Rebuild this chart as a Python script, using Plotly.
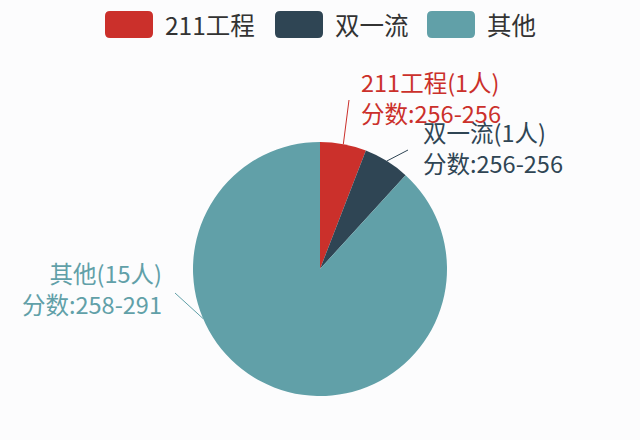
import math
import plotly.graph_objects as go

# Data
labels = ['211工程', '双一流', '其他']
counts = [1, 1, 15]
score_ranges = ['256-256', '256-256', '258-291']
colors = ['#cb302b', '#2f4554', '#61a0a8']

W, H = 640, 440
FONT = 'Noto Sans CJK SC'

# pie geometry (pixels)
cx, cy, R = 320, 269, 127


def px(x):
    return x / W


def py(y):
    return 1 - y / H


fig = go.Figure(go.Pie(
    labels=labels, values=counts, sort=False, direction='clockwise',
    rotation=0, marker=dict(colors=colors, line=dict(width=0)),
    textinfo='none', hoverinfo='label+value', showlegend=False,
    domain=dict(x=[px(cx - R), px(cx + R)], y=[py(cy + R), py(cy - R)]),
))

# outside labels with leader lines
total = sum(counts)
start = 0
mids = []
for c in counts:
    mids.append((start + c / 2) / total * 360)
    start += c
mids[2] = 247  # label of the big slice is pushed to the left

line_ends = [(349, 100), (408, 150), (175, 293)]
text_pos = [(359, 98, 'left'), (421, 147, 'left'), (164, 288, 'right')]

shapes = []
annotations = []
for i, lab in enumerate(labels):
    a = math.radians(mids[i])
    x0 = cx + R * math.sin(a)
    y0 = cy - R * math.cos(a)
    x1, y1 = line_ends[i]
    shapes.append(dict(type='line', xref='paper', yref='paper',
                       x0=px(x0), y0=py(y0), x1=px(x1), y1=py(y1),
                       line=dict(color=colors[i], width=1)))
    tx, ty, al = text_pos[i]
    annotations.append(dict(
        text=f'{lab}({counts[i]}人)<br>分数:{score_ranges[i]}',
        xref='paper', yref='paper', x=px(tx), y=py(ty),
        xanchor=al, yanchor='middle', align=al, showarrow=False,
        font=dict(family=FONT, size=23.5, color=colors[i])))

# legend drawn by hand (rounded boxes)
box_left = [105, 275, 427]
bw, bh, r = 48, 27, 5
for i, lab in enumerate(labels):
    x0, y0 = box_left[i], 11
    x1, y1 = x0 + bw, y0 + bh
    rx, ry = r / W, r / H
    X0, X1, Y0, Y1 = px(x0), px(x1), py(y1), py(y0)
    path = (f'M {X0+rx},{Y0} L {X1-rx},{Y0} Q {X1},{Y0} {X1},{Y0+ry} '
            f'L {X1},{Y1-ry} Q {X1},{Y1} {X1-rx},{Y1} '
            f'L {X0+rx},{Y1} Q {X0},{Y1} {X0},{Y1-ry} '
            f'L {X0},{Y0+ry} Q {X0},{Y0} {X0+rx},{Y0} Z')
    shapes.append(dict(type='path', xref='paper', yref='paper', path=path,
                       fillcolor=colors[i], line=dict(width=0)))
    annotations.append(dict(
        text=lab, xref='paper', yref='paper', x=px(x1 + 10), y=py(24),
        xanchor='left', yanchor='middle', showarrow=False,
        font=dict(family=FONT, size=24.5, color='#333333')))

fig.update_layout(
    width=W, height=H,
    margin=dict(l=0, r=0, t=0, b=0),
    paper_bgcolor='#fcfcfd', plot_bgcolor='#fcfcfd',
    shapes=shapes, annotations=annotations,
    font=dict(family=FONT),
)

fig.write_html('out.html', config={'displayModeBar': False},
               post_script="document.body.style.margin='0';")
